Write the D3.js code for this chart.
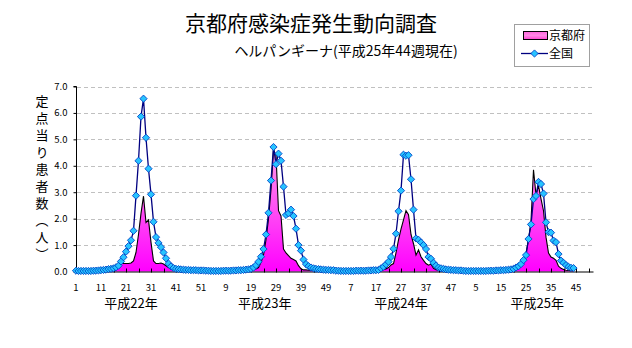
<!DOCTYPE html>
<html><head><meta charset="utf-8">
<script src="https://cdn.jsdelivr.net/npm/d3@7"></script>
<style>
body{margin:0;background:#fff}
svg{display:block}
text{font-family:"Noto Sans CJK JP","Noto Sans",sans-serif;fill:#000}
</style>
</head><body>
<svg id="chart" width="632" height="348"></svg>
<script>
// ---------------- data ----------------
const chartTitle = "京都府感染症発生動向調査";
const chartSubtitle = "ヘルパンギーナ(平成25年44週現在)";
const yAxisTitle = "定点当り患者数（人）";
const seriesNames = ["京都府", "全国"];
const yearLabels = ["平成22年", "平成23年", "平成24年", "平成25年"];
const weeksPerYear = [52, 52, 52, 52];
const xTickLabels = ["1","11","21","31","41","51","9","19","29","39","49","7","17","27","37","47","5","15","25","35","45"];
const yTickValues = [0, 1, 2, 3, 4, 5, 6, 7];

const kyoto2010 = [0.02,0.01,0.02,0.01,0.02,0.02,0.03,0.02,0.03,0.04,0.03,0.05,0.04,0.06,0.07,0.08,0.1,0.25,0.3,0.3,
  0.3,0.3,0.32,0.4,0.72,1.4,2.2,2.85,1.85,1.95,1.1,0.4,0.3,0.3,0.32,0.28,0.22,0.15,0.1,0.07,
  0.05,0.04,0.05,0.03,0.04,0.03,0.02,0.03,0.02,0.02,0.03,0.02];
const kyoto2011 = [0.02,0.02,0.01,0.02,0.02,0.01,0.02,0.02,0.03,0.02,0.03,0.03,0.04,0.03,0.04,0.05,0.05,0.06,0.07,0.08,
  0.1,0.15,0.35,0.62,1.2,2.0,3.1,4.6,4.4,2.3,2.1,0.85,0.7,0.6,0.5,0.45,0.4,0.22,0.1,0.06,
  0.06,0.05,0.05,0.04,0.04,0.03,0.03,0.02,0.03,0.02,0.02,0.02];
const kyoto2012 = [0.02,0.01,0.01,0.02,0.01,0.02,0.02,0.01,0.02,0.02,0.02,0.03,0.02,0.03,0.03,0.04,0.04,0.05,0.06,0.08,
  0.1,0.15,0.25,0.3,0.7,1.2,1.6,1.95,2.3,2.15,1.4,1.05,0.62,0.82,0.56,0.42,0.3,0.24,0.28,0.12,
  0.07,0.05,0.04,0.04,0.03,0.03,0.02,0.03,0.02,0.02,0.02,0.02];
const kyoto2013 = [0.02,0.01,0.02,0.01,0.02,0.02,0.01,0.02,0.02,0.03,0.02,0.03,0.03,0.04,0.04,0.05,0.05,0.06,0.08,0.1,
  0.14,0.2,0.3,0.45,0.7,1.2,1.9,3.85,2.9,3.25,2.75,2.3,1.3,0.7,0.55,0.5,0.42,0.2,0.12,0.08,
  0.05,0.04,0.03,0.03];

const national2010 = [0.03,0.02,0.02,0.02,0.02,0.02,0.02,0.03,0.03,0.04,0.05,0.06,0.07,0.09,0.1,0.12,0.16,0.22,0.38,0.54,
  0.75,0.96,1.18,1.54,2.87,4.19,5.86,6.54,5.06,3.89,2.92,1.88,1.3,1.08,0.92,0.72,0.5,0.3,0.19,0.13,
  0.1,0.09,0.08,0.07,0.06,0.06,0.05,0.05,0.05,0.04,0.04,0.04];
const national2011 = [0.03,0.03,0.02,0.02,0.02,0.02,0.02,0.03,0.03,0.03,0.03,0.04,0.04,0.05,0.05,0.06,0.07,0.08,0.1,0.15,
  0.24,0.37,0.56,0.85,1.4,2.22,3.44,4.71,4.06,4.46,4.19,3.21,2.14,2.2,2.34,2.1,1.62,1.0,0.79,0.45,
  0.28,0.2,0.15,0.12,0.1,0.09,0.08,0.07,0.06,0.06,0.05,0.05];
const national2012 = [0.03,0.03,0.02,0.02,0.02,0.02,0.02,0.02,0.03,0.03,0.03,0.03,0.03,0.04,0.04,0.05,0.05,0.06,0.12,0.18,
  0.27,0.37,0.55,0.86,1.43,2.28,3.06,4.42,4.38,4.4,3.49,2.34,1.25,1.2,1.1,1.0,0.85,0.55,0.48,0.33,
  0.22,0.15,0.12,0.1,0.08,0.07,0.06,0.05,0.05,0.04,0.04,0.03];
const national2013 = [0.02,0.02,0.02,0.02,0.02,0.02,0.02,0.02,0.02,0.03,0.03,0.03,0.04,0.04,0.05,0.05,0.06,0.07,0.08,0.1,
  0.15,0.2,0.28,0.43,0.62,1.23,1.78,2.74,2.86,3.39,3.31,2.95,1.86,1.49,1.47,1.17,1.11,0.66,0.41,0.33,
  0.24,0.18,0.14,0.13];

// ---------------- build ----------------
const kyoto = [].concat(kyoto2010, kyoto2011, kyoto2012, kyoto2013);
const national = [].concat(national2010, national2011, national2012, national2013);
const categories = [];
yearLabels.forEach((yl, yi) => { for (let w = 1; w <= weeksPerYear[yi]; w++) categories.push(yi + "-" + w); });
const yearStart = [0]; weeksPerYear.forEach((n, i) => yearStart.push(yearStart[i] + n));

const svg = d3.select("#chart");
const plot = {left: 76, right: 593.5, top: 86.5, bottom: 271.5};

const x = d3.scalePoint().domain(categories).range([plot.left, plot.right]);
const y = d3.scaleLinear().domain([0, 7]).range([plot.bottom, plot.top]);

const defs = svg.append("defs");
const grad = defs.append("linearGradient").attr("id", "kgrad").attr("x1", 0).attr("y1", 0).attr("x2", 0).attr("y2", 1);
grad.append("stop").attr("offset", "0%").attr("stop-color", "#ff9ae8");
grad.append("stop").attr("offset", "100%").attr("stop-color", "#ff00ff");
const lgrad = defs.append("linearGradient").attr("id", "lgrad").attr("x1", 0).attr("y1", 0).attr("x2", 0).attr("y2", 1);
lgrad.append("stop").attr("offset", "0%").attr("stop-color", "#ff66dd");
lgrad.append("stop").attr("offset", "50%").attr("stop-color", "#ff88e4");
lgrad.append("stop").attr("offset", "100%").attr("stop-color", "#ff44d4");

// gridlines
svg.append("g").selectAll("line").data(yTickValues.filter(v => v > 0)).join("line")
  .attr("x1", plot.left + 1).attr("x2", plot.right)
  .attr("y1", d => Math.round(y(d)) + 0.5).attr("y2", d => Math.round(y(d)) + 0.5)
  .attr("stroke", "#c0c0c0").attr("stroke-width", 1).attr("stroke-dasharray", "4,3");

// Kyoto area
const kData = kyoto.map((v, i) => ({c: categories[i], v}));
svg.append("path").datum(kData)
  .attr("d", d3.area().x(d => x(d.c)).y0(y(0)).y1(d => y(d.v)))
  .attr("fill", "url(#kgrad)");
svg.append("path").datum(kData)
  .attr("d", d3.line().x(d => x(d.c)).y(d => y(d.v)))
  .attr("fill", "none").attr("stroke", "#000").attr("stroke-width", 1.1);

// x axis
const xAxisG = svg.append("g");
xAxisG.append("line").attr("x1", plot.left).attr("x2", plot.right)
  .attr("y1", plot.bottom + 0.5).attr("y2", plot.bottom + 0.5).attr("stroke", "#000");
const minorIdx = d3.range(0, categories.length, 5);
xAxisG.selectAll("line.t").data(minorIdx).join("line").attr("class", "t")
  .attr("x1", d => Math.round(x(categories[d])) + 0.5).attr("x2", d => Math.round(x(categories[d])) + 0.5)
  .attr("y1", plot.bottom - 3).attr("y2", plot.bottom + 1).attr("stroke", "#000");
xAxisG.selectAll("text.xl").data(xTickLabels).join("text").attr("class", "xl")
  .attr("x", (d, i) => x(categories[i * 10])).attr("y", 290.5)
  .attr("text-anchor", "middle").attr("font-size", 9.5).text(d => d);

// y axis
const yAxis = d3.axisLeft(y).tickValues(yTickValues).tickFormat(d3.format(".1f")).tickSize(3).tickPadding(6);
const yg = svg.append("g").attr("transform", `translate(${plot.left + 0.5},0)`).call(yAxis);
yg.select(".domain").attr("d", `M-3,${plot.top}H0V${plot.bottom}`).attr("stroke", "#000");
yg.selectAll("text").attr("font-size", 9.5).attr("font-family", '"Noto Sans CJK JP",sans-serif').attr("fill", "#000");
yg.selectAll(".tick line").attr("stroke", "#000");

// year labels
const yearCenterWeek = [22, 23.5, 26, 28.5];
svg.append("g").selectAll("text").data(yearLabels).join("text")
  .attr("x", (d, i) => x(categories[yearStart[i] + Math.floor(yearCenterWeek[i])]) + (yearCenterWeek[i] % 1) * x.step())
  .attr("y", 308).attr("text-anchor", "middle").attr("font-size", 13).text(d => d);

// national line + markers
const nData = national.map((v, i) => ({c: categories[i], v}));
svg.append("path").datum(nData)
  .attr("d", d3.line().x(d => x(d.c)).y(d => y(d.v)))
  .attr("fill", "none").attr("stroke", "#000080").attr("stroke-width", 1.3);
const diamond = "M0,-3.6L3.6,0L0,3.6L-3.6,0Z";
svg.append("g").selectAll("path").data(nData).join("path")
  .attr("d", diamond).attr("transform", d => `translate(${x(d.c)},${y(d.v)})`)
  .attr("fill", "#27c4ff").attr("stroke", "#0046c8").attr("stroke-width", 0.9);

// y title (vertical)
svg.append("text").attr("x", 42).attr("y", 95)
  .attr("font-size", 13).style("writing-mode", "vertical-rl").attr("letter-spacing", 4)
  .text(yAxisTitle);

// titles
svg.append("text").attr("x", 311).attr("y", 31).attr("text-anchor", "middle")
  .attr("font-size", 21).text(chartTitle);
svg.append("text").attr("x", 346).attr("y", 56).attr("text-anchor", "middle")
  .attr("font-size", 14).text(chartSubtitle);

// legend
const lg = svg.append("g");
lg.append("rect").attr("x", 514.5).attr("y", 24.5).attr("width", 75).attr("height", 42)
  .attr("fill", "#fff").attr("stroke", "#a0a0a0");
lg.append("rect").attr("x", 523.5).attr("y", 31.5).attr("width", 24).attr("height", 8)
  .attr("fill", "url(#lgrad)").attr("stroke", "#000");
lg.append("text").attr("x", 549).attr("y", 40).attr("font-size", 12).text(seriesNames[0]);
lg.append("line").attr("x1", 521).attr("x2", 548).attr("y1", 53.5).attr("y2", 53.5)
  .attr("stroke", "#000080").attr("stroke-width", 1.3);
lg.append("path").attr("d", diamond).attr("transform", "translate(534.5,53.5)")
  .attr("fill", "#27c4ff").attr("stroke", "#0046c8").attr("stroke-width", 0.9);
lg.append("text").attr("x", 549).attr("y", 58).attr("font-size", 12).text(seriesNames[1]);
</script>
</body></html>
